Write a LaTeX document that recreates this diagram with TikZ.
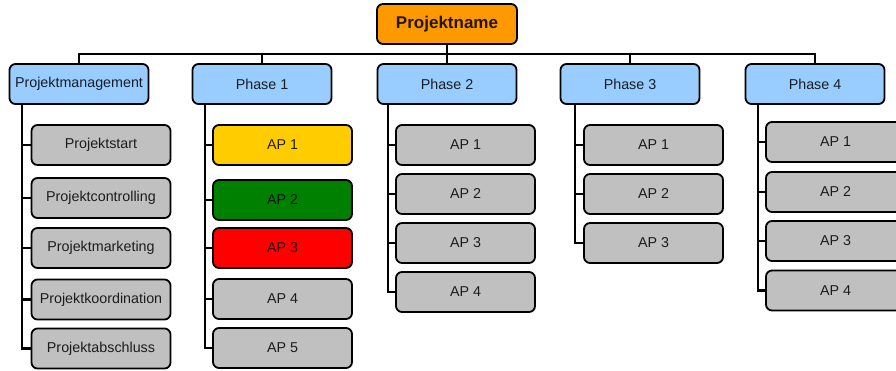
\documentclass[tikz,border=0pt]{standalone}
\usepackage{fontspec}
\setmainfont{Liberation Sans}
\begin{document}
\definecolor{topfill}{HTML}{FF9900}
\definecolor{phasefill}{HTML}{99CCFF}
\definecolor{taskfill}{HTML}{C0C0C0}
\definecolor{apyellow}{HTML}{FFCC00}
\definecolor{apgreen}{HTML}{008000}
\definecolor{apred}{HTML}{FF0000}
\begin{tikzpicture}[x=1pt,y=-1pt,
  box/.style={draw=black, line width=1.8pt, rounded corners=6pt,
    minimum width=139pt, minimum height=40pt, inner sep=0pt,
    text=black, text opacity=0.85, font=\fontsize{14.3}{16}\selectfont},
  rootbox/.style={box, fill=topfill, minimum width=140pt,
    font=\fontsize{17}{19}\selectfont\bfseries},
  phasebox/.style={box, fill=phasefill},
  taskbox/.style={box, fill=taskfill},
  link/.style={draw=black, line width=2.6pt}]
\useasboundingbox (0,0) rectangle (896,370);
\clip (0,0) rectangle (896,370);

% tree nodes
\node[rootbox] (root) at (447,24) {Projektname};

\node[phasebox] (pm) at (79,84) {Projektmanagement};
\node[phasebox] (p1) at (262,84) {Phase 1};
\node[phasebox] (p2) at (447,84) {Phase 2};
\node[phasebox] (p3) at (630,84) {Phase 3};
\node[phasebox] (p4) at (815,84) {Phase 4};

\node[taskbox] (pm1) at (101,145) {Projektstart};
\node[taskbox] (pm2) at (101,198) {Projektcontrolling};
\node[taskbox] (pm3) at (101,248) {Projektmarketing};
\node[taskbox] (pm4) at (101,299.5) {Projektkoordination};
\node[taskbox] (pm5) at (101,348.5) {Projektabschluss};

\node[taskbox, fill=apyellow] (a1) at (282.5,145) {AP 1};
\node[taskbox, fill=apgreen]  (a2) at (282.5,200) {AP 2};
\node[taskbox, fill=apred]    (a3) at (282.5,248) {AP 3};
\node[taskbox] (a4) at (282.5,299) {AP 4};
\node[taskbox] (a5) at (282.5,348) {AP 5};

\node[taskbox] (b1) at (465.5,145) {AP 1};
\node[taskbox] (b2) at (465.5,194) {AP 2};
\node[taskbox] (b3) at (465.5,243) {AP 3};
\node[taskbox] (b4) at (465.5,292) {AP 4};

\node[taskbox] (c1) at (653.5,145) {AP 1};
\node[taskbox] (c2) at (653.5,194) {AP 2};
\node[taskbox] (c3) at (653.5,243) {AP 3};

\node[taskbox] (d1) at (835.5,142) {AP 1};
\node[taskbox] (d2) at (835.5,192) {AP 2};
\node[taskbox] (d3) at (835.5,241) {AP 3};
\node[taskbox] (d4) at (835.5,290.5) {AP 4};

% helper coordinates: bus height and the x of each column's spine
\coordinate (bus) at (0,54);
\coordinate (spm) at (22,0);
\coordinate (sp1) at (205,0);
\coordinate (sp2) at (388,0);
\coordinate (sp3) at (575,0);
\coordinate (sp4) at (758,0);

% connectors
\path[link] (root.south) -- (root.south |- bus);
\path[link] (pm.north) -- (pm.north |- bus) -- (p4.north |- bus) -- (p4.north);
\foreach \p in {p1,p2,p3}
  \path[link] (\p.north) -- (\p.north |- bus);

\foreach \c in {pm1,pm2,pm3,pm4,pm5}
  \path[link] (pm.south -| spm) |- (\c.west);
\foreach \c in {a1,a2,a3,a4,a5}
  \path[link] (p1.south -| sp1) |- (\c.west);
\foreach \c in {b1,b2,b3,b4}
  \path[link] (p2.south -| sp2) |- (\c.west);
\foreach \c in {c1,c2,c3}
  \path[link] (p3.south -| sp3) |- (\c.west);
\foreach \c in {d1,d2,d3,d4}
  \path[link] (p4.south -| sp4) |- (\c.west);
\end{tikzpicture}
\end{document}
